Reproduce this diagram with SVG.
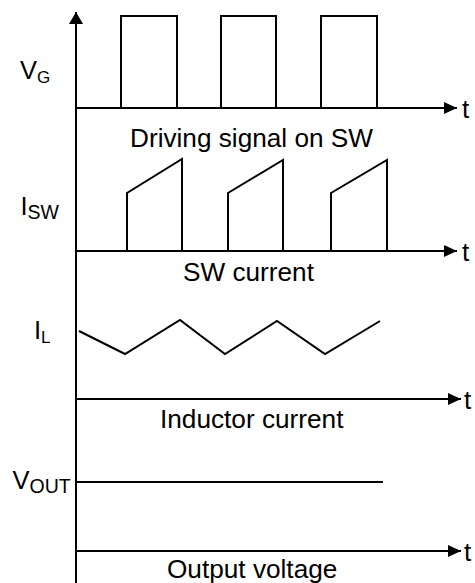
<svg xmlns="http://www.w3.org/2000/svg" width="475" height="583" viewBox="0 0 475 583">
<style>
  .ln{fill:none;stroke:#000;stroke-width:2;stroke-linejoin:miter;stroke-linecap:butt}
  text{font-family:"Liberation Sans",Arial,sans-serif;fill:#000}
  .big{font-size:26.2px}
  .lbl{font-size:25.5px}
  .t{font-size:26px}
  .sub{font-size:17px}
  .sub2{font-size:19.5px}
</style>
<defs>
  <marker id="arr" viewBox="0 0 13 12" refX="13" refY="6" markerWidth="13" markerHeight="12" markerUnits="userSpaceOnUse" orient="auto">
    <path d="M0,0 L13,6 L0,12 Z" fill="#000"/>
  </marker>
  <marker id="arrv" viewBox="0 0 12 14" refX="12" refY="7" markerWidth="12" markerHeight="14" markerUnits="userSpaceOnUse" orient="auto">
    <path d="M0,0 L12,7 L0,14 Z" fill="#000"/>
  </marker>
</defs>

<g id="connectors">
  <line id="y-axis" class="ln" x1="76" y1="583" x2="76" y2="12" marker-end="url(#arrv)"/>
  <line id="t-axis-vg" class="ln" x1="76" y1="108" x2="457" y2="108" marker-end="url(#arr)"/>
  <line id="t-axis-isw" class="ln" x1="76" y1="251" x2="457" y2="251" marker-end="url(#arr)"/>
  <line id="t-axis-il" class="ln" x1="77" y1="399" x2="461" y2="399" marker-end="url(#arr)"/>
  <line id="t-axis-vout" class="ln" x1="77" y1="551" x2="461" y2="551" marker-end="url(#arr)"/>
</g>

<g id="vg">
  <path class="ln" d="M121,108 V16 H177 V108 M221,108 V16 H276 V108 M321,108 V16 H377 V108"/>
  <text class="lbl" x="20" y="79">V<tspan class="sub" dy="3.7">G</tspan></text>
  <text class="t" x="462" y="118">t</text>
  <text class="big" x="130" y="147">Driving signal on SW</text>
</g>

<g id="isw">
  <path class="ln" d="M127,251 V193 L182,159 V251 M228,251 V193 L283,160 V251 M331,251 V193 L387,160 V251"/>
  <text class="lbl" x="20.5" y="215">I<tspan class="sub2" dy="4.3">SW</tspan></text>
  <text class="t" x="462" y="261">t</text>
  <text class="big" x="183" y="281">SW current</text>
</g>

<g id="il">
  <polyline class="ln" points="79,331 125,354 180,320 225,354 277,321 325,354 380,321"/>
  <text class="lbl" x="34" y="339">I<tspan class="sub" dy="4">L</tspan></text>
  <text class="t" x="464" y="409">t</text>
  <text class="big" x="160" y="428">Inductor current</text>
</g>

<g id="vout">
  <line class="ln" x1="76" y1="482" x2="383" y2="482"/>
  <text class="lbl" x="12.5" y="489">V<tspan class="sub2" dy="4.3">OUT</tspan></text>
  <text class="t" x="464" y="561">t</text>
  <text class="big" x="167" y="577.5">Output voltage</text>
</g>
</svg>
